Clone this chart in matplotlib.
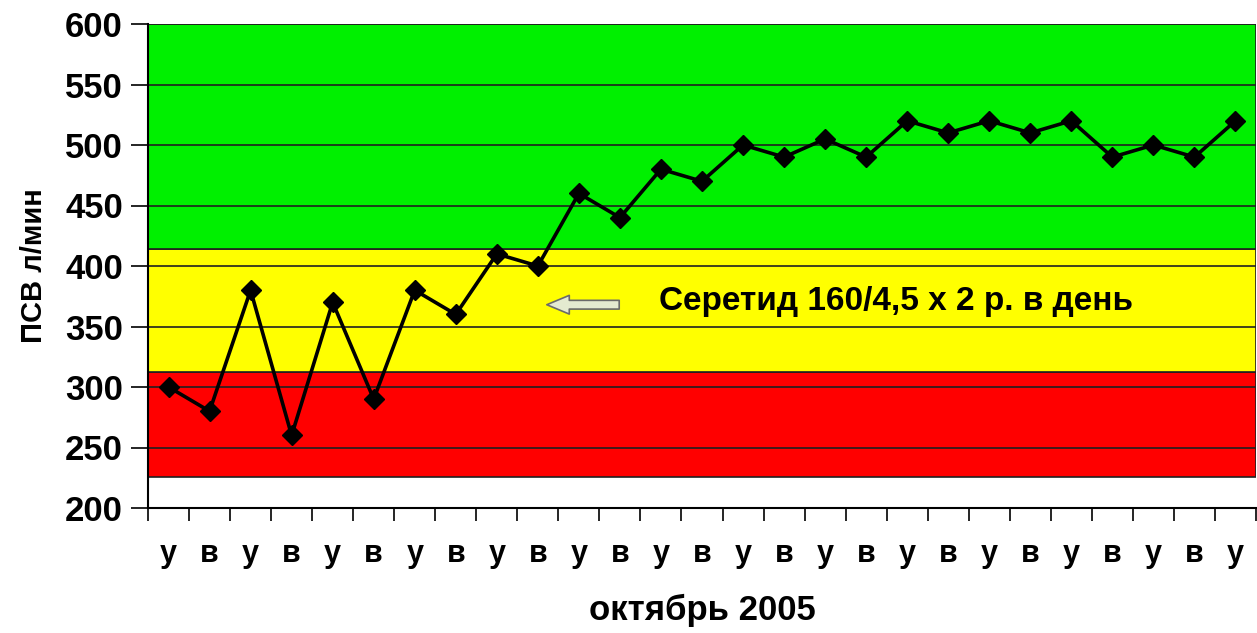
import matplotlib.pyplot as plt
import numpy as np

plt.rcParams['font.family'] = ['Liberation Sans', 'DejaVu Sans']

# данные
labels = ['у', 'в'] * 13 + ['у']
psv = [300, 280, 380, 260, 370, 290, 380, 360, 410, 400, 460, 440, 480, 470,
       500, 490, 505, 490, 520, 510, 520, 510, 520, 490, 500, 490, 520]
zones = [(226, 312, '#ff0000'), (312, 414, '#ffff00'), (414, 600, '#00f000')]
yticks = [200, 250, 300, 350, 400, 450, 500, 550, 600]

fig = plt.figure(figsize=(12.57, 6.33), dpi=100)
ax = fig.add_axes([148 / 1257, 125 / 633, 1108 / 1257, 484 / 633])

x = np.arange(len(psv))
ax.set_xlim(-0.5, len(psv) - 0.5)
ax.set_ylim(200, 600)

# цветные зоны
for lo, hi, c in zones:
    ax.axhspan(lo, hi, facecolor=c, edgecolor='#202020', linewidth=1.2, zorder=0)

# сетка
for y in yticks[1:]:
    ax.axhline(y, color='#202020', linewidth=1.2, zorder=1)

ax.plot(x, psv, color='black', linewidth=2.6, marker='D', markersize=10,
        zorder=3)

# стрелка и подпись
ax.annotate('', xy=(9.15, 368), xytext=(11.05, 368),
            arrowprops=dict(arrowstyle='simple,head_width=0.75,head_length=0.9,tail_width=0.35',
                            mutation_scale=18,
                            facecolor='#e4ead0', edgecolor='#6a6a6a', linewidth=1.2),
            zorder=4)
ax.text(11.95, 371, 'Серетид 160/4,5 х 2 р. в день', fontsize=24,
        fontweight='bold', va='center', ha='left', color='black', zorder=4)

ax.set_yticks(yticks)
ax.set_yticklabels([str(v) for v in yticks], fontsize=25, fontweight='bold')
ax.tick_params(axis='y', length=12, width=1.2, pad=6)

ax.set_xticks(x)
ax.set_xticklabels(labels, fontsize=22, fontweight='bold')
ax.set_xticks(np.arange(-0.5, len(psv)), minor=True)
ax.tick_params(axis='x', which='major', length=0, pad=22)
ax.tick_params(axis='x', which='minor', length=9, width=1.2)

ax.set_xlabel('октябрь 2005', fontsize=25, fontweight='bold', labelpad=18)
ax.set_ylabel('ПСВ л/мин', fontsize=21, fontweight='bold', labelpad=12)

for s in ['top', 'right']:
    ax.spines[s].set_visible(False)
ax.spines['left'].set_linewidth(1.5)
ax.spines['bottom'].set_linewidth(1.5)

plt.savefig('out.png', dpi=100)
